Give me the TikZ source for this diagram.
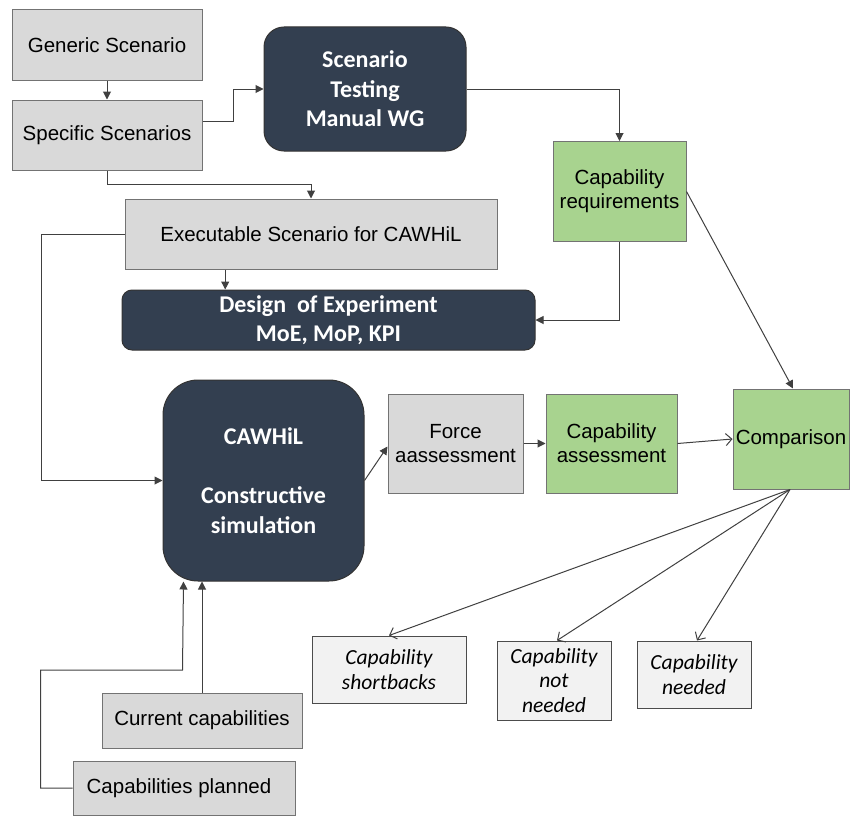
\documentclass[tikz,border=0pt]{standalone}
\usepackage{fontspec}
\usepackage{xcolor}
\setmainfont{Liberation Sans}
\newfontfamily\calibri{Carlito}
\usetikzlibrary{arrows.meta,calc}
\definecolor{slate}{HTML}{333F50}
\definecolor{capgreen}{HTML}{A8D38F}
\begin{document}
\begin{tikzpicture}[x=1pt,y=-1pt,line width=1pt,
  greybox/.style={draw=black!55,fill=black!15,inner sep=0pt,align=center,
    font=\fontsize{20.5}{24}\selectfont},
  greenbox/.style={greybox,fill=capgreen},
  darkbox/.style={draw=black!80,fill=slate,text=white,inner sep=0pt,align=center,
    font=\calibri\bfseries\fontsize{24}{29.5}\selectfont},
  resbox/.style={draw=black!70,fill=black!5,inner sep=0pt,align=center,
    font=\calibri\itshape\fontsize{21.5}{24.5}\selectfont},
  arr/.style={draw=black!75,-{Triangle[length=8pt,width=8pt]}},
  barb/.style={draw=black!75,-{Straight Barb[length=6pt,width=12pt]}}]
  \useasboundingbox (0,0) rectangle (850,816);
  \node[greybox,minimum width=190pt,minimum height=70pt] (gen) at (107,45) {Generic Scenario};
  \node[greybox,minimum width=190pt,minimum height=70pt] (spec) at (107,135) {Specific Scenarios};
  \node[darkbox,rounded corners=20pt,minimum width=202pt,minimum height=124pt] (scen) at (365,89) {Scenario\\Testing\\Manual WG};
  \node[greenbox,minimum width=133pt,minimum height=100pt] (req) at (619.5,191.5) {Capability\\requirements};
  \node[greybox,minimum width=372pt,minimum height=70pt] (exe) at (311,234) {Executable Scenario for CAWHiL};
  \node[darkbox,rounded corners=10pt,minimum width=413pt,minimum height=60pt] (doe) at (328.5,320) {Design\ \ of Experiment\\MoE, MoP, KPI};
  \node[darkbox,rounded corners=35pt,minimum width=201pt,minimum height=201pt] (sim) at (263.5,480.5) {CAWHiL\\[29.5pt]Constructive\\simulation};
  \node[greybox,minimum width=135pt,minimum height=99pt] (frc) at (455.5,443.5) {Force\\aassessment};
  \node[greenbox,minimum width=131pt,minimum height=99pt] (cas) at (611.5,443.5) {Capability\\assessment};
  \node[greenbox,minimum width=116pt,minimum height=100pt] (cmp) at (791,439) {Comparison};
  \node[resbox,minimum width=154pt,minimum height=67pt] (sht) at (389,669.5) {Capability\\shortbacks};
  \node[resbox,minimum width=114pt,minimum height=79pt] (nnd) at (554,680.5) {Capability\\not\\needed};
  \node[resbox,minimum width=114pt,minimum height=67pt] (ned) at (694,674.5) {Capability\\needed};
  \node[greybox,minimum width=200pt,minimum height=55pt] (cur) at (202,720.5) {Current capabilities};
  \node[greybox,minimum width=222pt,minimum height=54pt] (pln) at (184,788) {Capabilities planned\hspace*{10pt}};

  \draw[arr] (gen) -- (spec);
  \draw[arr] ([yshift=14pt]spec.east) -- ++(31,0) |- (scen.west);
  \draw[arr] (scen.east) -| (req.north);
  \draw[arr] (spec.south) -- ++(0,14) -| (exe.north);
  \draw[arr] ($(exe.south west)!0.27!(exe.south east)$) coordinate (e1) -- (e1 |- doe.north);
  \draw[arr] (req.south) |- (doe.east);
  \draw[arr] (req.east) -- ([xshift=2pt]cmp.north);
  \draw[arr] (exe.west) -- ++(-83,0) |- (sim.west);
  \draw[arr] (sim.east) -- ([yshift=-3pt]frc.west);
  \draw[arr] (frc) -- (cas);
  \draw[barb] (cas.east) -- (cmp.west);
  \draw[arr] (cur.north) -- (cur.north |- sim.south);
  \draw[arr] (pln.west) -- ++(-32,0) |- ++(142,-118) -- ([xshift=-80pt]sim.south);
  \coordinate (c1) at ([xshift=-1pt]cmp.south);
  \draw[barb] (c1) -- (sht.north);
  \draw[barb] (c1) -- ([xshift=3pt]nnd.north);
  \draw[barb] (c1) -- ([xshift=3pt]ned.north);
\end{tikzpicture}
\end{document}
